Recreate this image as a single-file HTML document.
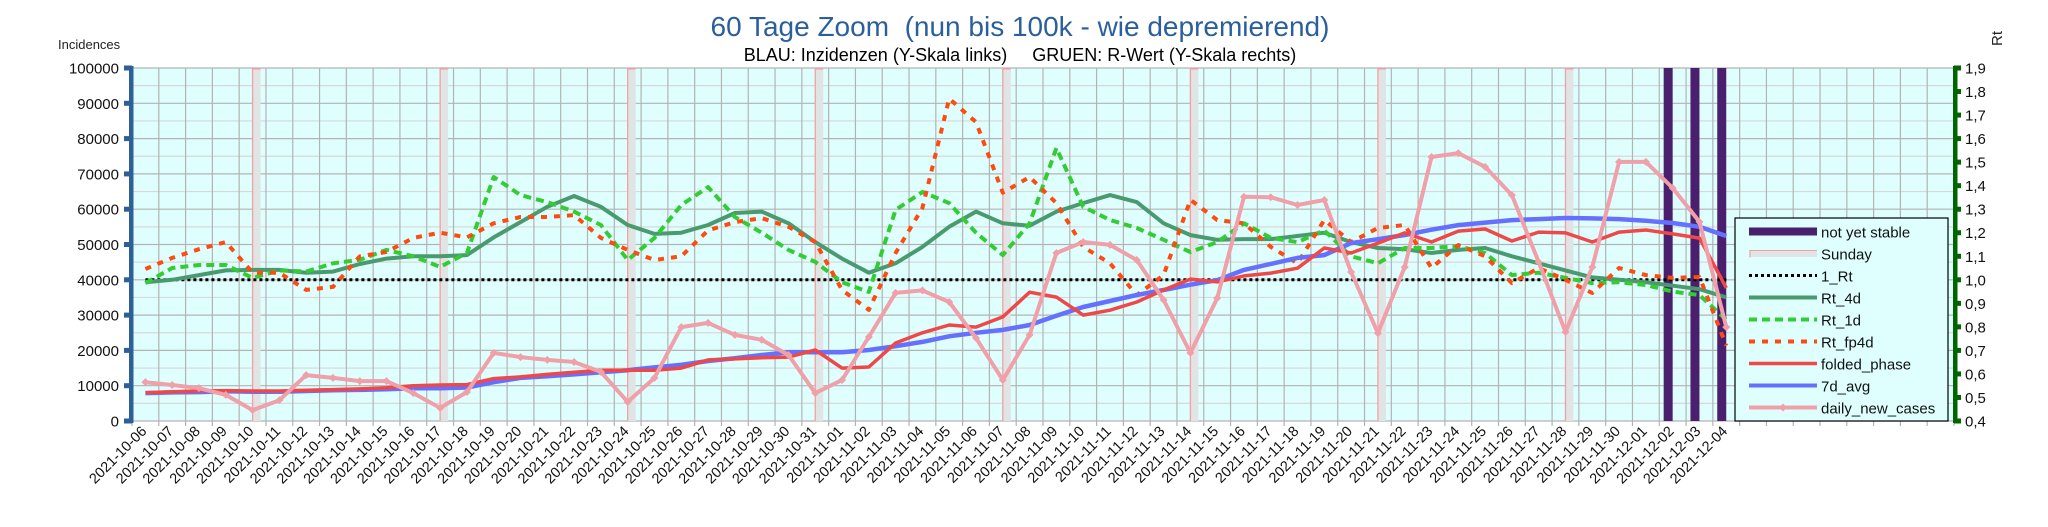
<!DOCTYPE html>
<html><head><meta charset="utf-8"><style>
body{margin:0;background:#fff;font-family:"Liberation Sans",sans-serif}
svg{display:block}
</style></head><body>
<svg id="c" width="2048" height="527" xmlns="http://www.w3.org/2000/svg">
<text x="1020" y="36" text-anchor="middle" font-size="28" fill="#2a5f9e" xml:space="preserve">60 Tage Zoom  (nun bis 100k - wie depremierend)</text>
<text x="1020" y="61" text-anchor="middle" font-size="18" fill="#000" xml:space="preserve">BLAU: Inzidenzen (Y-Skala links)     GRUEN: R-Wert (Y-Skala rechts)</text>
<text x="58" y="49" font-size="13" fill="#222">Incidences</text>
<text transform="translate(2002,46) rotate(-90)" font-size="15" fill="#222">Rt</text>
<g id="grid"></g><g id="marks"></g><g id="axes"></g>
<g>
<rect x="1735" y="218" width="213" height="203" fill="#dfffff" stroke="#000" stroke-width="1.2"/>
<g id="leg"></g>
</g>
</svg>
<script>
const dates=[];(function(){const d=new Date(Date.UTC(2021,9,6));for(let i=0;i<60;i++){const x=new Date(d.getTime()+i*864e5);dates.push(x.toISOString().slice(0,10));}})();
const sundays=["2021-10-10","2021-10-17","2021-10-24","2021-10-31","2021-11-07","2021-11-14","2021-11-21","2021-11-28"];
const unstable=["2021-12-02","2021-12-03","2021-12-04"];
const dailyNewCases=[11000,10200,9300,7400,3100,5900,13000,12200,11300,11300,7900,3700,8200,19300,18100,17300,16700,13900,5400,12200,26600,27800,24400,23000,18700,7900,11600,23800,36300,37000,33700,23500,11600,24400,47600,50700,49900,45600,34300,19300,34800,63500,63400,61200,62600,42200,24900,43600,74800,75900,72000,64000,45000,25200,43600,73400,73400,66000,56400,26600];
const avg7d=[7900,8100,8200,8400,8300,8300,8500,8700,8800,9000,9300,9300,9500,11000,12200,12700,13200,13800,14400,15200,15900,17000,17800,18700,19500,19500,19500,20100,21200,22400,24000,25000,25800,27200,29800,32300,34000,35700,37100,38600,39900,42800,44500,46200,47000,50400,51500,52700,54200,55500,56200,56900,57200,57500,57400,57200,56700,56100,55000,52400];
const foldedPhase=[8000,8300,8500,8600,8500,8500,8700,8900,9100,9400,10000,10200,10300,12000,12500,13200,13800,14400,14400,14400,15000,17300,17600,17900,18100,20100,15000,15300,22100,25000,27200,26600,29500,36500,35100,30000,31400,33700,37100,40200,39400,41100,41900,43300,49000,47600,50400,53300,50700,53800,54400,51000,53500,53300,50700,53500,54100,53000,51800,37700];
const oneRt=dates.map(()=>1.0);
const rt4d=[0.99,1.0,1.02,1.04,1.042,1.042,1.03,1.035,1.067,1.09,1.10,1.10,1.105,1.18,1.245,1.31,1.356,1.31,1.233,1.195,1.2,1.233,1.284,1.29,1.24,1.16,1.09,1.03,1.07,1.14,1.225,1.29,1.24,1.23,1.29,1.326,1.36,1.33,1.24,1.19,1.17,1.173,1.173,1.186,1.2,1.16,1.135,1.13,1.114,1.127,1.135,1.1,1.07,1.04,1.01,1.0,0.99,0.975,0.96,0.925];
const rt1d=[0.986,1.05,1.063,1.063,1.008,1.04,1.035,1.07,1.085,1.127,1.1,1.055,1.114,1.437,1.36,1.33,1.29,1.233,1.084,1.178,1.318,1.394,1.267,1.2,1.127,1.076,0.99,0.948,1.297,1.373,1.326,1.2,1.105,1.24,1.56,1.31,1.254,1.22,1.17,1.118,1.16,1.24,1.178,1.16,1.21,1.1,1.07,1.135,1.135,1.143,1.114,1.02,1.03,1.008,0.986,0.99,0.978,0.95,0.935,0.83];
const rtfp4d=[1.046,1.093,1.13,1.16,1.03,1.03,0.957,0.97,1.10,1.118,1.178,1.2,1.18,1.24,1.267,1.267,1.275,1.178,1.127,1.084,1.1,1.21,1.245,1.262,1.225,1.16,0.957,0.872,1.114,1.305,1.77,1.67,1.37,1.437,1.326,1.14,1.07,0.935,1.02,1.34,1.254,1.24,1.14,1.07,1.254,1.16,1.22,1.233,1.05,1.148,1.1,0.986,1.05,1.0,0.944,1.05,1.02,1.008,1.012,0.72];
const leftTicks=[0,10000,20000,30000,40000,50000,60000,70000,80000,90000,100000];
const rightTicks=["0,4","0,5","0,6","0,7","0,8","0,9","1,0","1,1","1,2","1,3","1,4","1,5","1,6","1,7","1,8","1,9"];

const NS="http://www.w3.org/2000/svg";
const X0=132,X1=1954,Y0=421,Y1=68,SLOTS=68,SW=(X1-X0)/SLOTS;
function xs(i){return X0+(i+0.5)*SW;}
function yl(v){return Y0-(v/100000)*(Y0-Y1);}
function yr(v){return Y0-((v-0.4)/1.5)*(Y0-Y1);}
function mk(tag,attrs,parent){const e=document.createElementNS(NS,tag);for(const k in attrs)e.setAttribute(k,attrs[k]);parent.appendChild(e);return e;}
const grid=document.getElementById('grid'),marks=document.getElementById('marks'),axes=document.getElementById('axes'),leg=document.getElementById('leg');
const bg=mk('rect',{x:X0,y:Y1,width:X1-X0,height:Y0-Y1,fill:'#dfffff'},grid);


for(let v=5000;v<100000;v+=10000){mk('line',{x1:X0,x2:X1,y1:yl(v),y2:yl(v),stroke:'#d8d8d8','stroke-width':1.2},grid);}
for(let v=0;v<=100000;v+=10000){mk('line',{x1:X0,x2:X1,y1:yl(v),y2:yl(v),stroke:'#b3b3b3','stroke-width':1.2},grid);}
for(let k=0;k<=SLOTS;k++){const x=X0+k*SW;mk('line',{x1:x,x2:x,y1:Y1,y2:Y0+5,stroke:'#b3b3b3','stroke-width':1.2},grid);}
sundays.forEach(s=>{const i=dates.indexOf(s);const x=xs(i);
 const g=mk('g',{},marks);
 
 
 mk('rect',{x:x,y:Y1,width:8,height:Y0-Y1,fill:'#e0e4e4'},g);
 mk('rect',{x:x,y:Y1,width:8,height:1.5,fill:'#f0a0a0'},g);
 mk('line',{x1:x,x2:x,y1:Y1,y2:Y0,stroke:'#f4a0a0','stroke-width':1.3},g);});
unstable.forEach(s=>{const i=dates.indexOf(s);const x=xs(i);
 const r=mk('rect',{x:x-9,y:Y1,width:9,height:Y0-Y1,fill:'#4a1f6e'},marks);
 
 });
function line(arr,yf,style,name){const pts=arr.map((v,i)=>xs(i).toFixed(1)+','+yf(v).toFixed(1)).join(' ');
 const p=mk('polyline',Object.assign({points:pts,fill:'none','stroke-linejoin':'round'},style),marks);
 
 return p;}
line(oneRt,yr,{stroke:'#000','stroke-width':3,'stroke-dasharray':'3 3'},'line-1-rt');
line(rt4d,yr,{stroke:'#4a9a70','stroke-width':4},'line-rt-4d');
line(rt1d,yr,{stroke:'#33cc33','stroke-width':4,'stroke-dasharray':'8 5'},'line-rt-1d');
line(rtfp4d,yr,{stroke:'#ff4a10','stroke-width':4,'stroke-dasharray':'6 7'},'line-rt-fp4d');
line(avg7d,yl,{stroke:'#6670ff','stroke-width':4.5},'line-7d-avg');
line(foldedPhase,yl,{stroke:'#f04848','stroke-width':3.5},'line-folded-phase');
line(dailyNewCases,yl,{stroke:'#f0a0a8','stroke-width':4},'line-daily-new-cases');
dailyNewCases.forEach((v,i)=>{const x=xs(i),y=yl(v);
 const d=mk('path',{d:`M${x-4} ${y}L${x} ${y-4}L${x+4} ${y}L${x} ${y+4}Z`,fill:'#f0a0a8'},marks);
 
 });
const la=mk('rect',{x:129,y:Y1-2,width:4.5,height:Y0-Y1+4,fill:'#2d6099'},axes);


leftTicks.forEach(v=>{const y=yl(v);mk('rect',{x:124,y:y-2.5,width:8,height:5,fill:'#2d6099'},axes);
 const t=mk('text',{x:119,y:y+5.5,'text-anchor':'end','font-size':15,fill:'#111'},axes);t.textContent=v;
 
 });
const ra=mk('rect',{x:1953,y:Y1-2,width:4.5,height:Y0-Y1+4,fill:'#006400'},axes);


rightTicks.forEach((s,k)=>{const y=yr(0.4+k*0.1);mk('rect',{x:1954,y:y-2.5,width:7,height:5,fill:'#006400'},axes);
 const t=mk('text',{x:1965,y:y+5.5,'font-size':15,fill:'#111'},axes);t.textContent=s;
 
 });
dates.forEach((d,i)=>{const x=xs(i)+2,y=432;
 const t=mk('text',{x:x,y:y,'text-anchor':'end','font-size':14.5,fill:'#111',transform:`rotate(-45 ${x} ${y})`},axes);t.textContent=d;
 
 });
const legItems=[["not yet stable",{stroke:'#4a1f6e','stroke-width':8}],["Sunday",{stroke:'#e0e4e4','stroke-width':7}],["1_Rt",{stroke:'#000','stroke-width':3,'stroke-dasharray':'3 3'}],["Rt_4d",{stroke:'#4a9a70','stroke-width':4}],["Rt_1d",{stroke:'#33cc33','stroke-width':4,'stroke-dasharray':'8 5'}],["Rt_fp4d",{stroke:'#ff4a10','stroke-width':4,'stroke-dasharray':'6 7'}],["folded_phase",{stroke:'#f04848','stroke-width':3.5}],["7d_avg",{stroke:'#6670ff','stroke-width':4}],["daily_new_cases",{stroke:'#f0a0a8','stroke-width':4}]];
legItems.forEach((it,k)=>{const y=231.5+k*22;const g=mk('g',{},leg);
 
 
 mk('line',Object.assign({x1:1749,x2:1817,y1:y,y2:y},it[1]),g);
 if(k===1){mk('path',{d:`M1750 ${y+4}V${y-3}H1817`,stroke:'#f0a0a0','stroke-width':1,fill:'none'},g);}
 if(k===8){mk('path',{d:`M1779 ${y}L1783 ${y-4}L1787 ${y}L1783 ${y+4}Z`,fill:'#f0a0a8'},g);}
 const t=mk('text',{x:1821,y:y+6,'font-size':15,fill:'#111'},g);t.textContent=it[0];});
</script>
</body></html>
